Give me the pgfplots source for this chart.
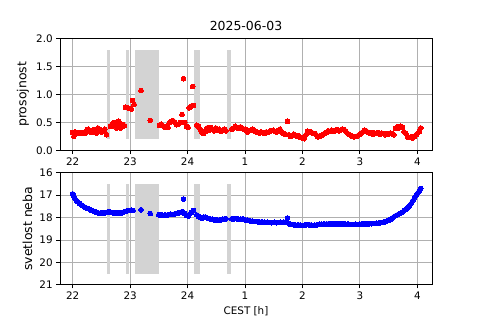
\documentclass[border=0pt]{standalone}
\usepackage{fontspec}
\setmainfont{DejaVu Sans}
\usepackage{pgfplots}
\pgfplotsset{compat=1.18}
\definecolor{lgray}{RGB}{211,211,211}
\definecolor{gridc}{RGB}{176,176,176}
\pgfplotsset{
  mpl/.style={
    scale only axis, width=357.12bp, height=107.52bp, anchor=south west,
    xmin=21.779, xmax=28.256,
    xtick={22,23,24,25,26,27,28}, xticklabels={22,23,24,1,2,3,4},
    grid=major, major grid style={color=gridc, line width=0.8bp},
    axis line style={line width=0.8bp}, tick style={line width=0.8bp, black},
    tick align=outside, major tick length=3.5bp,
    xtick pos=bottom, ytick pos=left,
    /pgf/number format/assume math mode=true,
    tick label style={font=\fontsize{10}{12}\selectfont},
    xlabel style={font=\fontsize{10}{12}\selectfont},
    ylabel style={font=\fontsize{12}{14}\selectfont},
    clip=false,
  },
}
\begin{document}
\begin{tikzpicture}
\path[use as bounding box] (0,0) rectangle (460.8bp,307.2bp);
\begin{axis}[mpl, at={(57.6bp,162.816bp)},
  ymin=0, ymax=2, ytick={0,0.5,1,1.5,2},
  yticklabel style={/pgf/number format/.cd, fixed, fixed zerofill, precision=1},
  ylabel={prosojnost},
  title={2025-06-03}, title style={font=\fontsize{12}{14}\selectfont, yshift=-2bp},
]
\addplot[fill=lgray, draw=none] coordinates {(22.592,0.2) (22.65,0.2) (22.65,1.8) (22.592,1.8)} -- cycle;
\addplot[fill=lgray, draw=none] coordinates {(22.928,0.2) (22.98,0.2) (22.98,1.8) (22.928,1.8)} -- cycle;
\addplot[fill=lgray, draw=none] coordinates {(23.085,0.2) (23.503,0.2) (23.503,1.8) (23.085,1.8)} -- cycle;
\addplot[fill=lgray, draw=none] coordinates {(24.112,0.2) (24.217,0.2) (24.217,1.8) (24.112,1.8)} -- cycle;
\addplot[fill=lgray, draw=none] coordinates {(24.686,0.2) (24.756,0.2) (24.756,1.8) (24.686,1.8)} -- cycle;
\addplot[only marks, mark=*, mark size=2.3bp, mark options={draw=red, fill=red, line width=0pt}] coordinates {
(22.00,0.32) (22.02,0.25) (22.04,0.33) (22.07,0.30) (22.10,0.32) (22.13,0.31) (22.16,0.32) (22.19,0.30)
(22.22,0.31) (22.25,0.37) (22.27,0.38) (22.30,0.33) (22.33,0.35) (22.36,0.32) (22.38,0.37) (22.41,0.31)
(22.44,0.40) (22.47,0.38) (22.50,0.33) (22.53,0.36) (22.56,0.38) (22.59,0.28)
(22.66,0.43) (22.68,0.46) (22.70,0.48) (22.72,0.50) (22.74,0.45) (22.76,0.40) (22.78,0.47) (22.80,0.52)
(22.82,0.46) (22.84,0.40) (22.86,0.42) (22.88,0.46) (22.90,0.44) (22.92,0.77) (22.96,0.76) (23.00,0.75)
(23.02,0.74) (23.04,0.89) (23.07,0.82) (23.19,1.07) (23.35,0.535)
(23.51,0.45) (23.54,0.47) (23.57,0.44) (23.60,0.42) (23.63,0.43) (23.66,0.41) (23.69,0.50) (23.72,0.52)
(23.75,0.53) (23.78,0.50) (23.81,0.46) (23.84,0.47) (23.87,0.50) (23.905,0.64) (23.93,1.28) (23.95,0.50)
(23.98,0.43) (24.01,0.41) (24.03,0.76) (24.06,0.79) (24.09,1.14) (24.10,0.80) (24.16,0.45)
(24.19,0.43) (24.22,0.38) (24.25,0.32) (24.28,0.30) (24.31,0.34) (24.34,0.40) (24.37,0.36) (24.40,0.41)
(24.43,0.38) (24.46,0.35) (24.49,0.40) (24.52,0.36) (24.55,0.38) (24.58,0.34) (24.61,0.36) (24.64,0.38)
(24.67,0.35) (24.77,0.38) (24.80,0.40) (24.83,0.43) (24.86,0.40) (24.89,0.39) (24.92,0.42) (24.95,0.40)
(24.98,0.38) (25.01,0.38) (25.04,0.33) (25.07,0.35) (25.10,0.36) (25.13,0.38) (25.16,0.35) (25.19,0.34)
(25.22,0.32) (25.25,0.31) (25.28,0.33) (25.31,0.32) (25.34,0.30) (25.37,0.33) (25.40,0.32) (25.43,0.34)
(25.46,0.35) (25.49,0.36) (25.52,0.34) (25.55,0.33) (25.58,0.36) (25.61,0.38) (25.64,0.33) (25.67,0.30)
(25.70,0.29) (25.74,0.52) (25.76,0.28) (25.79,0.25) (25.82,0.26) (25.85,0.29) (25.88,0.27) (25.91,0.25)
(25.94,0.26) (25.97,0.23) (26.00,0.22) (26.03,0.21) (26.06,0.28) (26.09,0.34) (26.12,0.32) (26.15,0.33)
(26.18,0.31) (26.21,0.30) (26.24,0.28) (26.27,0.24) (26.30,0.25) (26.33,0.27) (26.36,0.29) (26.39,0.30)
(26.42,0.32) (26.45,0.35) (26.48,0.34) (26.51,0.36) (26.54,0.34) (26.57,0.35) (26.60,0.37) (26.63,0.35)
(26.66,0.36) (26.69,0.38) (26.72,0.37) (26.75,0.35) (26.78,0.31) (26.81,0.29) (26.84,0.27) (26.87,0.25)
(26.90,0.24) (26.93,0.25) (26.96,0.26) (26.99,0.28) (27.02,0.31) (27.05,0.33) (27.08,0.36) (27.11,0.35)
(27.14,0.32) (27.17,0.31) (27.20,0.32) (27.23,0.29) (27.26,0.31) (27.29,0.30) (27.32,0.32) (27.35,0.29)
(27.38,0.31) (27.41,0.30) (27.44,0.28) (27.47,0.30) (27.50,0.29) (27.53,0.31) (27.56,0.30) (27.59,0.28)
(27.62,0.39) (27.65,0.42) (27.68,0.40) (27.71,0.43) (27.74,0.41) (27.77,0.33) (27.80,0.30) (27.83,0.24)
(27.86,0.23) (27.89,0.24) (27.92,0.22) (27.95,0.25) (27.98,0.28) (28.01,0.31) (28.04,0.34) (28.06,0.40)
};
\end{axis}
\begin{axis}[mpl, at={(57.6bp,33.792bp)},
  ymin=16, ymax=21, ytick={16,17,18,19,20,21}, y dir=reverse,
  ylabel={svetlost neba}, xlabel={CEST [h]},
]
\addplot[fill=lgray, draw=none] coordinates {(22.592,16.5) (22.65,16.5) (22.65,20.5) (22.592,20.5)} -- cycle;
\addplot[fill=lgray, draw=none] coordinates {(22.928,16.5) (22.98,16.5) (22.98,20.5) (22.928,20.5)} -- cycle;
\addplot[fill=lgray, draw=none] coordinates {(23.085,16.5) (23.503,16.5) (23.503,20.5) (23.085,20.5)} -- cycle;
\addplot[fill=lgray, draw=none] coordinates {(24.112,16.5) (24.217,16.5) (24.217,20.5) (24.112,20.5)} -- cycle;
\addplot[fill=lgray, draw=none] coordinates {(24.686,16.5) (24.756,16.5) (24.756,20.5) (24.686,20.5)} -- cycle;
\addplot[only marks, mark=*, mark size=2.3bp, mark options={draw=blue, fill=blue, line width=0pt}] coordinates {
(22.00,16.94) (22.02,17.05) (22.04,17.15) (22.06,17.22) (22.09,17.30) (22.12,17.36) (22.15,17.43) (22.18,17.48)
(22.21,17.53) (22.24,17.57) (22.27,17.60) (22.30,17.64) (22.33,17.68) (22.36,17.71) (22.39,17.74) (22.42,17.76)
(22.45,17.79) (22.48,17.80) (22.51,17.79) (22.54,17.80) (22.57,17.78) (22.60,17.76) (22.63,17.74) (22.66,17.76)
(22.69,17.78) (22.72,17.80) (22.75,17.79) (22.78,17.77) (22.81,17.80) (22.84,17.81) (22.87,17.78) (22.90,17.74)
(22.93,17.71) (22.96,17.69) (22.99,17.68) (23.02,17.67) (23.05,17.68) (23.19,17.65) (23.35,17.82)
(23.50,17.87) (23.53,17.86) (23.56,17.89) (23.59,17.90) (23.62,17.89) (23.65,17.88) (23.68,17.86) (23.71,17.85)
(23.74,17.86) (23.77,17.84) (23.80,17.82) (23.83,17.80) (23.86,17.78) (23.89,17.75) (23.92,17.74) (23.93,17.17)
(23.95,17.82) (23.98,17.90) (24.01,17.93) (24.04,17.83) (24.07,17.76) (24.10,17.68) (24.16,17.88) (24.19,17.95)
(24.22,18.00) (24.25,18.02) (24.28,17.98) (24.31,17.97) (24.34,18.02) (24.37,18.04) (24.40,18.06) (24.43,18.08)
(24.46,18.10) (24.49,18.09) (24.52,18.10) (24.55,18.11) (24.58,18.10) (24.61,18.08) (24.64,18.06) (24.67,18.05)
(24.77,18.05) (24.80,18.06) (24.83,18.04) (24.86,18.06) (24.89,18.08) (24.92,18.07) (24.95,18.06) (24.98,18.08)
(25.01,18.10) (25.04,18.11) (25.07,18.13) (25.10,18.15) (25.13,18.16) (25.16,18.17) (25.19,18.17) (25.22,18.18)
(25.25,18.19) (25.28,18.20) (25.31,18.21) (25.34,18.20) (25.37,18.22) (25.40,18.21) (25.43,18.22) (25.46,18.23)
(25.49,18.22) (25.52,18.21) (25.55,18.23) (25.58,18.22) (25.61,18.21) (25.64,18.22) (25.67,18.21) (25.70,18.20)
(25.74,18.02) (25.76,18.25) (25.79,18.30) (25.82,18.31) (25.85,18.32) (25.88,18.33) (25.91,18.34) (25.94,18.33)
(25.97,18.34) (26.00,18.35) (26.03,18.34) (26.06,18.33) (26.09,18.31) (26.12,18.32) (26.15,18.33) (26.18,18.35)
(26.21,18.34) (26.24,18.33) (26.27,18.31) (26.30,18.30) (26.33,18.29) (26.36,18.30) (26.39,18.29) (26.42,18.28)
(26.45,18.28) (26.48,18.27) (26.51,18.27) (26.54,18.28) (26.57,18.27) (26.60,18.27) (26.63,18.28) (26.66,18.27)
(26.69,18.28) (26.72,18.28) (26.75,18.29) (26.78,18.30) (26.81,18.30) (26.84,18.31) (26.87,18.31) (26.90,18.31)
(26.93,18.30) (26.96,18.31) (26.99,18.30) (27.02,18.29) (27.05,18.28) (27.08,18.27) (27.11,18.28) (27.14,18.27)
(27.17,18.27) (27.20,18.27) (27.23,18.26) (27.26,18.26) (27.29,18.25) (27.32,18.25) (27.35,18.23) (27.38,18.22)
(27.41,18.20) (27.44,18.18) (27.47,18.15) (27.50,18.12) (27.53,18.08) (27.56,18.03) (27.59,17.97) (27.62,17.92)
(27.65,17.88) (27.68,17.84) (27.71,17.80) (27.74,17.75) (27.77,17.69) (27.80,17.63) (27.83,17.57) (27.86,17.48)
(27.89,17.38) (27.92,17.25) (27.95,17.12) (27.98,17.00) (28.01,16.90) (28.03,16.82) (28.05,16.75) (28.06,16.70)
};
\end{axis}
\end{tikzpicture}
\end{document}
